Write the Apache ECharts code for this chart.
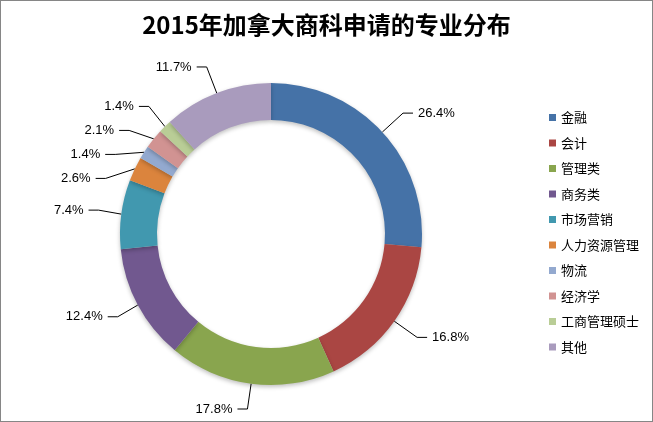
<!DOCTYPE html>
<html>
<head>
<meta charset="utf-8">
<script src="https://cdn.jsdelivr.net/npm/echarts@6/dist/echarts.min.js"></script>
<style>
html,body{margin:0;padding:0;background:#fff;}
#c{width:653px;height:422px;box-sizing:border-box;border:1px solid #868686;}
</style>
</head>
<body>
<div id="c"></div>
<script>
const titleText = '2015年加拿大商科申请的专业分布';
const categories = ['金融','会计','管理类','商务类','市场营销','人力资源管理','物流','经济学','工商管理硕士','其他'];
const values = [26.4,16.8,17.8,12.4,7.4,2.6,1.4,2.1,1.4,11.7];
const colors = ['#4572A7','#AA4643','#89A54E','#71588F','#4198AF','#DB843D','#93A9CF','#D19392','#B9CD96','#A99BBD'];

const chart = echarts.init(document.getElementById('c'), null, {renderer:'canvas'});
chart.setOption({
  animation:false,
  color: colors,
  title:{
    text:titleText,
    left:'center', top:7,
    textStyle:{fontFamily:'Noto Sans CJK SC', fontWeight:'bold', fontSize:24, color:'#000'}
  },
  legend:{
    orient:'vertical', left:543, top:105,
    itemWidth:7, itemHeight:7, itemGap:12.5,
    icon:'rect',
    textStyle:{fontFamily:'Noto Sans CJK SC', fontSize:13, color:'#000'},
    data:categories
  },
  series:[{
    type:'pie',
    center:[270,233],
    radius:[114,151],
    startAngle:90,
    clockwise:true,
    avoidLabelOverlap:true,
    itemStyle:{shadowBlur:4, shadowColor:'rgba(0,0,0,0.25)', shadowOffsetY:2},
    label:{
      show:true,
      formatter:p=>p.value.toFixed(1)+'%',
      fontFamily:'Liberation Sans', fontSize:13, color:'#000',
      lineHeight:22
    },
    labelLine:{show:true, length:28, length2:10, lineStyle:{color:'#000', width:1}},
    emphasis:{disabled:true},
    data:categories.map((n,i)=>({name:n, value:values[i]}))
  }]
});
</script>
</body>
</html>
